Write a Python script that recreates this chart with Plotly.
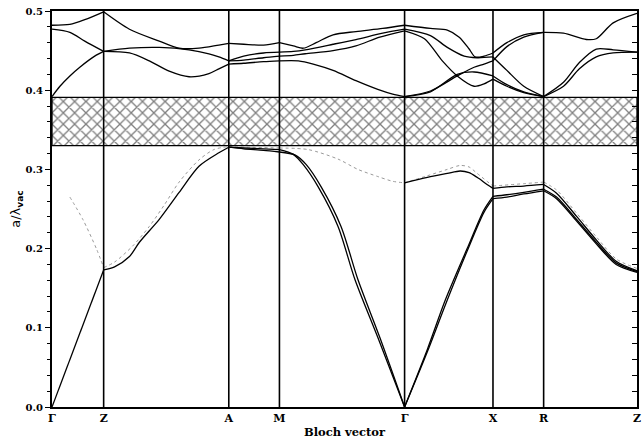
import plotly.graph_objects as go

# Symmetry points along the Bloch-vector path (path length, arbitrary units)
K_LABELS = ["Γ", "Z", "A", "M", "Γ", "X", "R", "Z"]
K_POS = [0.0, 0.52, 1.78, 2.29, 3.55, 4.44, 4.95, 5.89]

# Complete photonic band gap (normalised frequency a/λ_vac)
GAP_LOW, GAP_HIGH = 0.330, 0.391

# ---- bands below the gap ----
B1_K = [0, 0.52, 0.63, 0.78, 0.88, 1.08, 1.28, 1.48, 1.68, 1.78, 1.93, 2.13, 2.29, 2.43, 2.53,
        2.68, 2.88, 3.05, 3.28, 3.55, 3.78, 3.96, 4.18, 4.35, 4.44, 4.58, 4.75, 4.95, 5.08,
        5.28, 5.48, 5.68, 5.89]
B1_F = [0, 0.173, 0.177, 0.190, 0.208, 0.237, 0.271, 0.304, 0.321, 0.328, 0.327, 0.326, 0.325,
        0.319, 0.306, 0.278, 0.228, 0.161, 0.088, 0.0, 0.073, 0.135, 0.200, 0.249, 0.266, 0.268,
        0.271, 0.275, 0.265, 0.237, 0.208, 0.182, 0.171]

B2_K = [1.78, 1.93, 2.13, 2.29, 2.45, 2.56, 2.71, 2.91, 3.08, 3.30, 3.55, 3.78, 3.97, 4.18, 4.35,
        4.44, 4.58, 4.75, 4.95, 5.08, 5.28, 5.48, 5.68, 5.89]
B2_F = [0.328, 0.326, 0.324, 0.322, 0.318, 0.306, 0.278, 0.228, 0.161, 0.088, 0.0, 0.070, 0.132,
        0.197, 0.246, 0.263, 0.265, 0.269, 0.273, 0.263, 0.235, 0.206, 0.180, 0.170]

B3_K = [3.55, 3.78, 3.98, 4.11, 4.20, 4.28, 4.38, 4.44, 4.58, 4.75, 4.95, 5.08, 5.28, 5.48, 5.68, 5.89]
B3_F = [0.283, 0.290, 0.295, 0.298, 0.296, 0.290, 0.281, 0.276, 0.278, 0.279, 0.281, 0.270, 0.241,
        0.211, 0.184, 0.172]

# weakly coupled band (drawn faint)
B4_K = [0.18, 0.31, 0.45, 0.52, 0.63, 0.81, 0.98, 1.13, 1.28, 1.48, 1.63, 1.78, 2.00, 2.29, 2.58,
        2.88, 3.08, 3.28, 3.43, 3.55, 3.78, 3.98, 4.11, 4.20, 4.28, 4.44, 4.75, 4.95, 5.08, 5.28,
        5.48, 5.68, 5.89]
B4_F = [0.265, 0.237, 0.199, 0.176, 0.183, 0.203, 0.228, 0.255, 0.284, 0.312, 0.325, 0.329, 0.328,
        0.327, 0.325, 0.313, 0.300, 0.291, 0.285, 0.283, 0.292, 0.300, 0.305, 0.303, 0.295, 0.279,
        0.282, 0.284, 0.274, 0.245, 0.215, 0.187, 0.175]

# ---- bands above the gap ----
U1_K = [0, 0.08, 0.18, 0.28, 0.43, 0.52, 0.78, 0.98, 1.18, 1.38, 1.58, 1.68, 1.78, 1.93, 2.13, 2.29,
        2.48, 2.63, 2.83, 3.06, 3.28, 3.43, 3.55, 3.81, 4.08, 4.25, 4.44, 4.58, 4.75, 4.95, 5.15,
        5.31, 5.48, 5.65, 5.89]
U1_F = [0.392, 0.405, 0.418, 0.429, 0.443, 0.449, 0.447, 0.437, 0.424, 0.417, 0.421, 0.427, 0.433,
        0.434, 0.436, 0.437, 0.437, 0.433, 0.425, 0.412, 0.401, 0.395, 0.392, 0.398, 0.420, 0.423,
        0.418, 0.407, 0.398, 0.392, 0.405, 0.427, 0.442, 0.447, 0.448]

U2_K = [0, 0.18, 0.33, 0.52, 0.78, 1.08, 1.38, 1.58, 1.68, 1.78, 1.93, 2.13, 2.29, 2.43, 2.55, 2.83,
        3.06, 3.30, 3.55, 3.75, 3.93, 4.08, 4.25, 4.35, 4.44, 4.58, 4.75, 4.95, 5.15, 5.31, 5.48,
        5.65, 5.89]
U2_F = [0.477, 0.473, 0.462, 0.449, 0.453, 0.454, 0.451, 0.446, 0.442, 0.437, 0.438, 0.441, 0.443,
        0.444, 0.446, 0.450, 0.456, 0.467, 0.475, 0.465, 0.437, 0.418, 0.405, 0.408, 0.414, 0.405,
        0.397, 0.392, 0.410, 0.435, 0.452, 0.451, 0.448]

U3_K = [0, 0.18, 0.33, 0.52, 0.78, 1.08, 1.28, 1.48, 1.68, 1.78, 1.93, 2.13, 2.29, 2.43, 2.53, 2.66,
        2.83, 3.06, 3.33, 3.55, 3.81, 3.98, 4.10, 4.20, 4.26, 4.35, 4.44, 4.58, 4.75, 4.95, 5.15,
        5.38, 5.48, 5.65, 5.89]
U3_F = [0.482, 0.483, 0.489, 0.499, 0.477, 0.462, 0.453, 0.453, 0.457, 0.459, 0.458, 0.457, 0.460,
        0.456, 0.453, 0.460, 0.470, 0.474, 0.478, 0.482, 0.478, 0.476, 0.467, 0.452, 0.442, 0.443,
        0.447, 0.460, 0.470, 0.473, 0.472, 0.464, 0.465, 0.485, 0.497]

U4_K = [1.78, 1.93, 2.13, 2.29, 2.43, 2.55, 2.83, 3.06, 3.33, 3.55, 3.81, 3.98, 4.15, 4.28, 4.44,
        4.58, 4.75, 4.95]
U4_F = [0.437, 0.443, 0.447, 0.448, 0.449, 0.451, 0.458, 0.464, 0.472, 0.477, 0.469, 0.454, 0.443,
        0.441, 0.442, 0.425, 0.405, 0.392]

U5_K = [3.55, 3.81, 4.08, 4.25, 4.35, 4.44, 4.58, 4.75, 4.95]
U5_F = [0.392, 0.399, 0.418, 0.429, 0.433, 0.437, 0.455, 0.467, 0.473]

SERIF = "DejaVu Serif"


def split_segments(ks, fs):
    """Break a band at the symmetry points so each path segment is smoothed on its own."""
    xs, ys = [], []
    for a, b in zip(K_POS[:-1], K_POS[1:]):
        seg = [(k, f) for k, f in zip(ks, fs) if a - 1e-9 <= k <= b + 1e-9]
        if len(seg) < 2:
            continue
        xs += [p[0] for p in seg] + [None]
        ys += [p[1] for p in seg] + [None]
    return xs, ys


fig = go.Figure()

# hatched band gap
fig.add_trace(go.Scatter(
    x=[K_POS[0], K_POS[-1], K_POS[-1], K_POS[0], K_POS[0]],
    y=[GAP_LOW, GAP_LOW, GAP_HIGH, GAP_HIGH, GAP_LOW],
    mode="lines", fill="toself", fillcolor="white",
    fillpattern=dict(shape="x", fgcolor="black", bgcolor="white", size=8, solidity=0.3),
    line=dict(color="black", width=1.3), hoverinfo="skip", showlegend=False))

# faint band
x, y = split_segments(B4_K, B4_F)
fig.add_trace(go.Scatter(x=x, y=y, mode="lines", line=dict(color="#9a9a9a", width=1, dash="dot",
                                                            shape="spline", smoothing=0.8),
                         showlegend=False, hoverinfo="skip"))

for ks, fs in [(B1_K, B1_F), (B2_K, B2_F), (B3_K, B3_F),
               (U1_K, U1_F), (U2_K, U2_F), (U3_K, U3_F), (U4_K, U4_F), (U5_K, U5_F)]:
    x, y = split_segments(ks, fs)
    fig.add_trace(go.Scatter(x=x, y=y, mode="lines",
                             line=dict(color="black", width=1.3, shape="spline", smoothing=0.8),
                             showlegend=False, hoverinfo="skip"))

# symmetry-point lines, drawn on the overlaid right axis
vx, vy = [], []
for k in K_POS[1:-1]:
    vx += [k, k, None]
    vy += [0, 0.5, None]
fig.add_trace(go.Scatter(x=vx, y=vy, yaxis="y2", mode="lines",
                         line=dict(color="black", width=1.6), showlegend=False, hoverinfo="skip"))

fig.update_layout(
    width=642, height=440,
    margin=dict(l=52, r=1, t=11, b=33),
    paper_bgcolor="white", plot_bgcolor="white",
    font=dict(family=SERIF, color="black"),
    xaxis=dict(range=[K_POS[0], K_POS[-1]], tickvals=K_POS, ticktext=K_LABELS,
               ticks="", showgrid=False, zeroline=False, ticklabeloverflow="allow",
               showline=True, mirror=True, linecolor="black", linewidth=2,
               tickfont=dict(family=SERIF, size=11, color="black", weight="bold"),
               title=dict(text="Bloch vector", standoff=4,
                          font=dict(family=SERIF, size=11.5, color="black", weight="bold"))),
    yaxis=dict(range=[0, 0.5], dtick=0.1, tickformat=".1f", ticks="outside", ticklen=5,
               tickwidth=1.2, tickcolor="black",
               minor=dict(dtick=0.02, ticks="outside", ticklen=3, tickcolor="black"),
               showgrid=False, zeroline=False,
               showline=True, mirror=True, linecolor="black", linewidth=2,
               tickfont=dict(family=SERIF, size=10, color="black", weight="bold"),
               title=dict(text="a/λ<sub><b>vac</b></sub>", standoff=2,
                          font=dict(family="DejaVu Sans", size=13, color="black"))),
    yaxis2=dict(range=[0, 0.5], overlaying="y", side="right", dtick=0.1, ticks="inside",
                ticklen=5, tickcolor="black",
                minor=dict(dtick=0.02, ticks="inside", ticklen=5, tickcolor="black"),
                showticklabels=False, showgrid=False, zeroline=False, showline=False),
)

fig.write_html("out.html")
